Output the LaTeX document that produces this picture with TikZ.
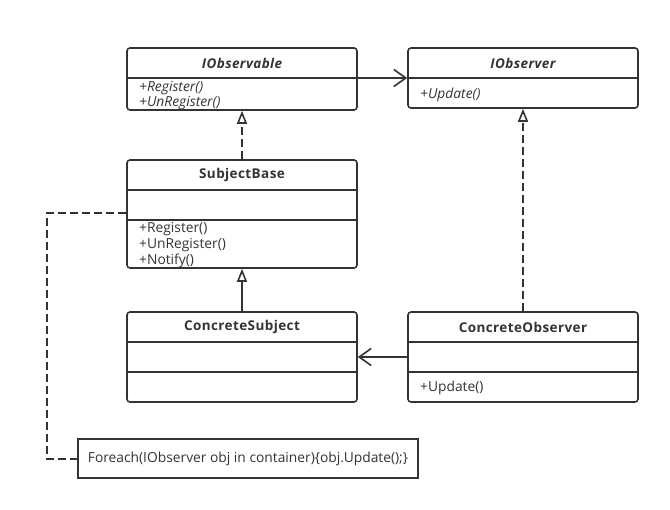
\documentclass[tikz,border=0pt]{standalone}
\usepackage{fontspec}
\setmainfont{Open Sans}
\newfontfamily\hdrfont{Open Sans}[LetterSpace=3]
\usetikzlibrary{arrows.meta}
\definecolor{lc}{HTML}{333333}
\tikzset{
  cls/.style={draw=lc, line width=1.6pt, rounded corners=3pt, minimum width=230pt, inner sep=0pt},
  sep/.style={draw=lc, line width=1.6pt},
  hdr/.style={font=\hdrfont\fontsize{13.5}{15}\selectfont\bfseries, text=lc, inner sep=0pt},
  ihdr/.style={font=\hdrfont\fontsize{13.5}{15}\selectfont\bfseries\itshape, text=lc, inner sep=0pt},
  mth/.style={font=\fontsize{13.8}{15}\selectfont, text=lc, anchor=west, inner sep=0pt},
  imth/.style={font=\fontsize{13.8}{15}\selectfont\itshape, text=lc, anchor=west, inner sep=0pt},
  conn/.style={draw=lc, line width=1.6pt},
  dsh/.style={dash pattern=on 8pt off 4pt},
  realize/.style={-{Triangle[open,length=13pt,width=10pt,line width=1.6pt]}},
  assoc/.style={-{Straight Barb[length=12pt,width=17pt,line width=1.6pt]}},
}
\begin{document}
\begin{tikzpicture}[x=1pt,y=-1pt]
\useasboundingbox (0,0) rectangle (670,510);
% boxes
\node[cls, minimum height=62pt] (iob) at (242,79) {};
\node[cls, minimum height=60pt] (ior) at (523,78) {};
\node[cls, minimum height=108pt] (sb) at (242,214) {};
\node[cls, minimum height=90pt] (cs) at (242,357) {};
\node[cls, minimum height=90pt] (co) at (523,357) {};
\node[draw=lc, line width=1.6pt, minimum width=340pt, minimum height=39pt, inner sep=0pt] (note) at (248,458.5) {};
% compartments
\draw[sep] (iob.west |- 0,78) -- (iob.east |- 0,78);
\draw[sep] (ior.west |- 0,78) -- (ior.east |- 0,78);
\draw[sep] (sb.west |- 0,190) -- (sb.east |- 0,190);
\draw[sep] (sb.west |- 0,220) -- (sb.east |- 0,220);
\draw[sep] (cs.west |- 0,342) -- (cs.east |- 0,342);
\draw[sep] (cs.west |- 0,372) -- (cs.east |- 0,372);
\draw[sep] (co.west |- 0,342) -- (co.east |- 0,342);
\draw[sep] (co.west |- 0,372) -- (co.east |- 0,372);
% texts
\node[ihdr] (t1) at (242,63) {IObservable};
\node[imth] (t2) at (139,88) {+Register()};
\node[imth] (t3) at (139,103) {+UnRegister()};
\node[ihdr] (t4) at (523,63) {IObserver};
\node[imth] (t5) at (420,95) {+Update()};
\node[hdr] (t6) at (242,175) {SubjectBase};
\node[mth] (t7) at (139,229) {+Register()};
\node[mth] (t8) at (139,245) {+UnRegister()};
\node[mth] (t9) at (139,261) {+Notify()};
\node[hdr] (t10) at (242,327) {ConcreteSubject};
\node[hdr] (t11) at (523,327) {ConcreteObserver};
\node[mth] (t12) at (420,388) {+Update()};
\node[font=\fontsize{13.8}{15}\selectfont, text=lc, inner sep=0pt] (t13) at (note.center) {Foreach(IObserver obj in container)\{obj.Update();\}};
% connectors
\draw[conn, assoc] (iob.east |- 0,78) -- (ior.west |- 0,78);
\draw[conn, dsh, realize] (sb.north) -- (iob.south);
\draw[conn, realize] (cs.north) -- (sb.south);
\draw[conn, dsh, realize] (co.north) -- (ior.south);
\draw[conn, assoc] (co.west) -- (cs.east);
\coordinate (k1) at (47,213);
\coordinate (k2) at (47,459);
\draw[conn, dsh] (sb.west |- k1) -- (k1) -- (k2) -- (note.west |- k2);
\end{tikzpicture}
\end{document}
